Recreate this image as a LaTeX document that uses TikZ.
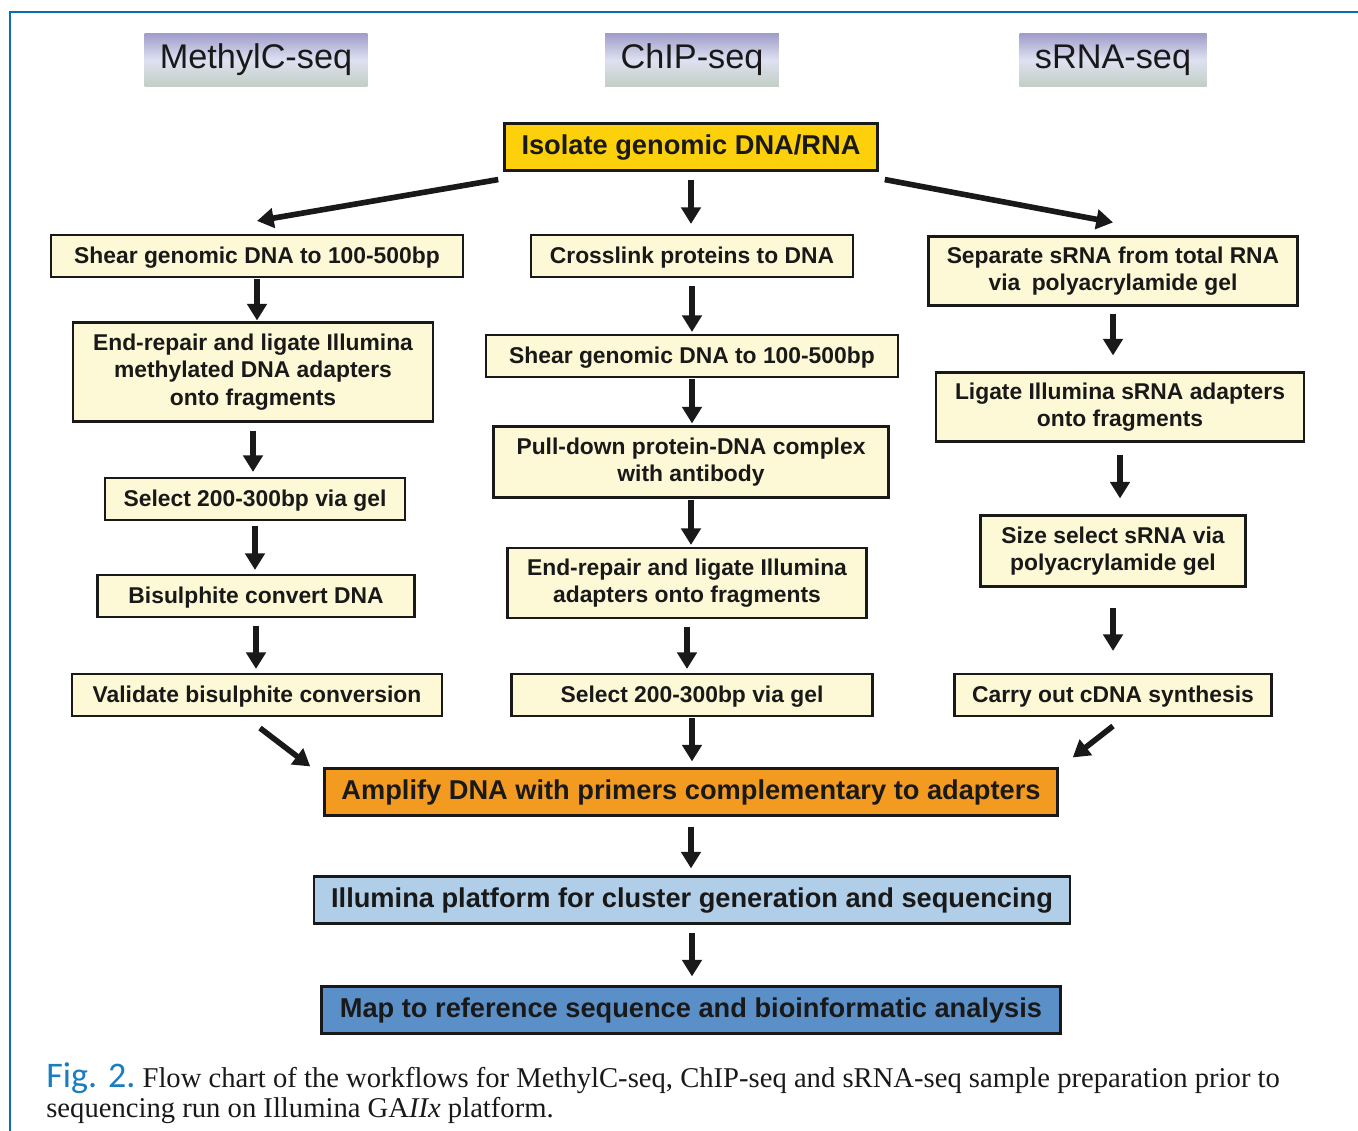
\documentclass[tikz,border=0pt]{standalone}
\usepackage{fontspec}
\setmainfont{Liberation Serif}
\setsansfont{Liberation Sans}
\newfontfamily\figfont{Carlito}
\usepackage{xcolor}
\usetikzlibrary{positioning,arrows.meta,calc}
\definecolor{cFrame}{HTML}{0B6DB3}
\definecolor{cFigBlue}{HTML}{1A7DC0}
\definecolor{cHeadTop}{HTML}{A09DCA}
\definecolor{cHeadMid}{HTML}{DEE1F1}
\definecolor{cHeadBot}{HTML}{C2CEC4}
\definecolor{cStepBg}{HTML}{FDF8D5}
\definecolor{cIsolate}{HTML}{FCD00A}
\definecolor{cAmplify}{HTML}{F29B20}
\definecolor{cIllumina}{HTML}{B0CEE8}
\definecolor{cMapBlue}{HTML}{5B8FC7}
\newlength\pxu
\setlength\pxu{0.02cm}

\begin{document}
\begin{tikzpicture}[
  x=0.02cm, y=-0.02cm,
  every node/.style={font=\sffamily\bfseries\fontsize{13}{15.6}\selectfont, text=black!90},
  header/.style={top color=cHeadTop, bottom color=cHeadBot, middle color=cHeadMid,
                 minimum height=1.06cm, text height=1.2em, text depth=0.2em,
                 font=\sffamily\fontsize{19.5}{22}\selectfont},
  stepbox/.style={draw=black!90, fill=cStepBg, line width=1.2pt, text height=1em, text depth=0.2em,
                  minimum height=0.84cm, align=center, inner sep=2pt},
  multi/.style={text height=, text depth=},
  keybox/.style={draw=black!90, line width=1.5pt, minimum height=0.93cm, align=center,
                 text height=1em, text depth=0.2em,
                 font=\sffamily\bfseries\fontsize{15.5}{18}\selectfont},
  arr/.style={-{Triangle[length=9.5pt,width=11pt]}, line width=3.2pt, black!90},
]
  \useasboundingbox (0,0) rectangle (1358,1131);
  % frame
  \draw[cFrame, line width=1.3pt] (10,1131) -- (10,12) -- (1358,12);

  % workflow titles
  \node[header, minimum width=4.46cm] (hMeth) at (256,60) {MethylC-seq};
  \node[header, minimum width=3.48cm] (hChip) at (692,60) {ChIP-seq};
  \node[header, minimum width=3.74cm] (hSrna) at (1113,60) {sRNA-seq};

  \node[keybox, fill=cIsolate, minimum width=7.46cm] (iso) at (691,147) {Isolate genomic DNA/RNA};

  % MethylC-seq
  \node[stepbox, minimum width=8.24cm] (l1) at (257,256) {Shear genomic DNA to 100-500bp};
  \node[stepbox, multi, minimum width=7.2cm, minimum height=1.98cm] (l2) at (253,372)
       {End-repair and ligate Illumina\\methylated DNA adapters\\onto fragments};
  \node[stepbox, minimum width=6cm] (l3) at (255,499) {Select 200-300bp via gel};
  \node[stepbox, minimum width=6.34cm] (l4) at (256,596) {Bisulphite convert DNA};
  \node[stepbox, minimum width=7.4cm] (l5) at (257,695) {Validate bisulphite conversion};

  % ChIP-seq
  \node[stepbox, minimum width=6.44cm] (m1) at (692,256) {Crosslink proteins to DNA};
  \node[stepbox, minimum width=8.24cm] (m2) at (692,356) {Shear genomic DNA to 100-500bp};
  \node[stepbox, multi, minimum width=7.9cm, minimum height=1.42cm] (m3) at (691,462)
       {Pull-down protein-DNA complex\\with antibody};
  \node[stepbox, multi, minimum width=7.18cm, minimum height=1.4cm] (m4) at (687,583)
       {End-repair and ligate Illumina\\adapters onto fragments};
  \node[stepbox, minimum width=7.22cm] (m5) at (692,695) {Select 200-300bp via gel};

  % sRNA-seq
  \node[stepbox, multi, minimum width=7.38cm, minimum height=1.38cm] (r1) at (1113,271)
       {Separate sRNA from total RNA\\via\enspace polyacrylamide gel};
  \node[stepbox, multi, minimum width=7.36cm, minimum height=1.38cm] (r2) at (1120,407)
       {Ligate Illumina sRNA adapters\\onto fragments};
  \node[stepbox, multi, minimum width=5.3cm, minimum height=1.42cm] (r3) at (1113,551)
       {Size select sRNA via\\polyacrylamide gel};
  \node[stepbox, minimum width=6.34cm] (r4) at (1113,695) {Carry out cDNA synthesis};

  % common steps
  \node[keybox, fill=cAmplify, minimum width=14.66cm] (amp) at (691,792)
       {Amplify DNA with primers complementary to adapters};
  \node[keybox, fill=cIllumina, minimum width=15.12cm] (ill) at (692,900)
       {Illumina platform for cluster generation and sequencing};
  \node[keybox, fill=cMapBlue, minimum width=14.78cm] (map) at (691,1010)
       {Map to reference sequence and bioinformatic analysis};

  % caption
  \node[anchor=north west, align=left, inner sep=0pt,
        font=\rmfamily\fontsize{16.3}{17}\selectfont] (cap) at (46,1062)
       {{\figfont\fontsize{20.5}{17}\selectfont\color{cFigBlue}Fig. 2.}\ Flow chart of the workflows for MethylC-seq, ChIP-seq and sRNA-seq sample preparation prior to\\
        sequencing run on Illumina GA\textit{IIx} platform.};

  % arrows
  \foreach \a/\b/\s/\e in {iso/m1/8/10, l1/l2/1/1, l2/l3/8/5, l3/l4/5/4, l4/l5/8/4,
                           m1/m2/8/2, m2/m3/1/2, m3/m4/1/2, m4/m5/8/4, m5/amp/1/6,
                           r1/r2/7/16, r2/r3/12/16, r3/r4/20/22, amp/ill/10/7, ill/map/8/9}
    \draw[arr, shorten <=\s\pxu, shorten >=\e\pxu] (\a.south) -- (\a.south |- \b.north);
  \draw[arr] ($(iso.south west)+(-5,8)$) -- ($(l1.north)+(0,-13)$);
  \draw[arr] ($(iso.south east)+(6,8)$) -- ($(r1.north)+(0,-13)$);
  \draw[arr] ($(l5.south)+(3,11)$) -- ($(amp.north west)+(-13,-1)$);
  \draw[arr] ($(r4.south)+(0,9)$) -- ($(amp.north east)+(14,-10)$);
\end{tikzpicture}
\end{document}
